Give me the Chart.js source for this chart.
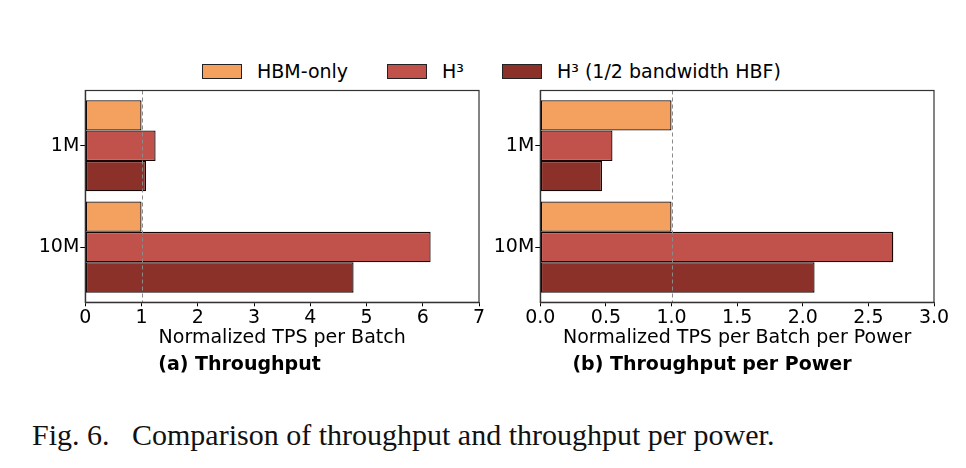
<!DOCTYPE html>
<html>
<head>
<meta charset="utf-8">
<script src="https://cdn.jsdelivr.net/npm/chart.js@4"></script>
<style>
  html, body { margin: 0; padding: 0; background: #fff; }
  body { width: 966px; height: 468px; position: relative; overflow: hidden; }
  canvas { position: absolute; }
  #legend { position: absolute; top: 61px; left: 0; width: 966px; height: 22px;
            font: 19px "DejaVu Sans", sans-serif; color: #000; }
  .item { position: absolute; top: 0; height: 22px; line-height: 22px; white-space: nowrap; }
  .box { position: absolute; top: 3px; left: 0; width: 38px; height: 13px; border: 1px solid #222; }
  .txt { position: absolute; left: 55px; top: -1px; }
  #caption { position: absolute; left: 32px; top: 418px; font: 30px "Liberation Serif", "Times New Roman", serif;
             white-space: pre; color: #111; }
</style>
</head>
<body>
<div id="legend"></div>
<canvas id="chartA"></canvas>
<canvas id="chartB"></canvas>
<div id="caption">Fig. 6.   Comparison of throughput and throughput per power.</div>
<script>
const categories = ["1M", "10M"];
const seriesNames = ["HBM-only", "H³", "H³ (1/2 bandwidth HBF)"];
const seriesColors = ["#F4A05E", "#C0524B", "#8B312A"];

// (a) throughput, normalized to HBM-only
const tputHbm = [1.0, 1.0];
const tputH3 = [1.25, 6.14];
const tputH3Half = [1.08, 4.77];

// (b) throughput per power
const tppHbm = [1.0, 1.0];
const tppH3 = [0.55, 2.69];
const tppH3Half = [0.47, 2.09];

const xTicksA = [0, 1, 2, 3, 4, 5, 6, 7];
const xTicksB = [0, 0.5, 1, 1.5, 2, 2.5, 3];

// matplotlib-like y limits around the two bar groups
const yMin = -0.545, yMax = 1.545;

const FONT = "'DejaVu Sans', sans-serif";
Chart.defaults.font.family = FONT;
Chart.defaults.color = "#000";
Chart.defaults.animation = false;

// frame on all 4 sides + dashed reference line at x = 1
const framePlugin = {
  id: "frame",
  afterDatasetsDraw(chart) {
    const {ctx, chartArea: a, scales} = chart;
    const x1 = scales.x.getPixelForValue(1);
    ctx.save();
    ctx.strokeStyle = "#8a8a8a";
    ctx.lineWidth = 1;
    ctx.setLineDash([4, 3]);
    ctx.beginPath();
    ctx.moveTo(Math.round(x1) + 0.5, a.top);
    ctx.lineTo(Math.round(x1) + 0.5, a.bottom);
    ctx.stroke();
    ctx.setLineDash([]);
    ctx.strokeStyle = "#333";
    ctx.lineWidth = 1.2;
    ctx.strokeRect(a.left, a.top, a.right - a.left, a.bottom - a.top);
    ctx.restore();
  }
};

function makeDatasets(arrs) {
  return arrs.map((vals, i) => ({
    label: seriesNames[i],
    data: vals.map((v, j) => ({x: v, y: j})),
    backgroundColor: seriesColors[i],
    borderColor: "#160806",
    borderWidth: 1.3,
    borderSkipped: false,
    categoryPercentage: 0.9,
    barPercentage: 1.0
  }));
}

function makeChart(id, left, width, padRight, yWidth, arrs, xTicks, xMax, xTitle, title, fmt) {
  const canvas = document.getElementById(id);
  canvas.style.left = left + "px";
  canvas.style.top = "80px";
  canvas.style.width = width + "px";
  canvas.style.height = "300px";
  canvas.width = width;
  canvas.height = 300;
  return new Chart(canvas, {
    type: "bar",
    data: { datasets: makeDatasets(arrs) },
    options: {
      indexAxis: "y",
      responsive: false,
      devicePixelRatio: 1,
      layout: { padding: { top: 9.3, right: padRight, bottom: 5.5, left: 0 } },
      plugins: {
        legend: { display: false },
        tooltip: { enabled: false },
        title: {
          display: true, position: "bottom", text: title,
          font: { family: FONT, size: 19, weight: "bold", lineHeight: 1 },
          padding: 0, color: "#000"
        }
      },
      scales: {
        x: {
          type: "linear", min: 0, max: xMax,
          afterBuildTicks: s => { s.ticks = xTicks.map(v => ({value: v})); },
          afterFit: s => { s.height = 53.2; },
          ticks: { font: { size: 19, lineHeight: 1 }, padding: 2, maxRotation: 0,
                   callback: v => fmt(v), color: "#000" },
          grid: { drawOnChartArea: false, drawTicks: true, tickLength: 4, color: "#000" },
          border: { display: true, color: "#333", width: 1.2 },
          title: { display: true, text: xTitle, color: "#000",
                   font: { size: 19, lineHeight: 1 }, padding: { top: 0, bottom: 7.8 } }
        },
        y: {
          type: "linear", reverse: true, min: yMin, max: yMax, offset: false,
          afterBuildTicks: s => {
            s.ticks = categories.map((c, i) => ({value: i}));
            s.min = yMin;
            s.max = yMax;
          },
          afterFit: s => { s.width = yWidth; },
          ticks: { font: { size: 19, lineHeight: 1 }, padding: 1,
                   callback: v => categories[v], color: "#000" },
          grid: { offset: false, drawOnChartArea: false, drawTicks: true, tickLength: 5, color: "#000" },
          border: { display: true, color: "#333", width: 1.2 }
        }
      }
    },
    plugins: [framePlugin]
  });
}

const chartA = makeChart("chartA", 0, 490, 11, 85.3,
  [tputHbm, tputH3, tputH3Half], xTicksA, 7,
  "Normalized TPS per Batch", "(a) Throughput", v => String(v));

const chartB = makeChart("chartB", 490, 476, 32, 50.3,
  [tppHbm, tppH3, tppH3Half], xTicksB, 3,
  "Normalized TPS per Batch per Power", "(b) Throughput per Power", v => v.toFixed(1));

// shared legend built from the chart's own legend items
const legendPos = [202, 387, 502];
const legendEl = document.getElementById("legend");
chartA.options.plugins.legend.labels.generateLabels(chartA).forEach((it, i) => {
  const d = document.createElement("div");
  d.className = "item";
  d.style.left = legendPos[i] + "px";
  const b = document.createElement("span");
  b.className = "box";
  b.style.background = it.fillStyle;
  const t = document.createElement("span");
  t.className = "txt";
  t.textContent = it.text;
  d.appendChild(b);
  d.appendChild(t);
  legendEl.appendChild(d);
});
</script>
</body>
</html>
